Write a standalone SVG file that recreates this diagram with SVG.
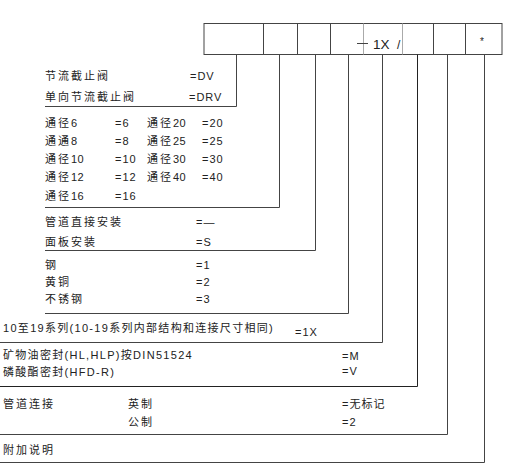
<svg xmlns="http://www.w3.org/2000/svg" width="510" height="473" viewBox="0 0 510 473">
<style>
text{font-family:"Liberation Sans","Noto Sans CJK SC",sans-serif;font-size:11px;fill:#222;letter-spacing:1px}
.c{letter-spacing:2px}
.d{letter-spacing:0.5px}
.m{letter-spacing:1.3px}
.ln{stroke:#444;stroke-width:1;fill:none}
.lt{stroke:#aaa;stroke-width:1;fill:none}
.big{font-size:13.5px;letter-spacing:0}
</style>
<rect width="510" height="473" fill="#fff"/>
<g id="code-box">
<rect x="204" y="23.5" width="298" height="31" class="ln"/>
<path class="ln" d="M263.5 23.5V54.5M297.5 23.5V54.5M330.5 23.5V54.5M433.5 23.5V54.5M465.5 23.5V54.5"/>
<path class="lt" d="M363.5 23.5V54.5M402.5 23.5V54.5"/>
<path class="ln" d="M357 43.5H368"/>
<text x="373" y="49" class="big">1X</text>
<text x="397" y="49" class="big" style="font-size:12px">/</text>
<text x="480" y="45" style="font-size:10px">*</text>
</g>
<g id="connectors">
<path class="ln" d="M236.5 54.5V106.5H45"/>
<path class="ln" d="M279.5 54.5V207.5H45"/>
<path class="ln" d="M315.5 54.5V250.5H45"/>
<path class="ln" d="M348.5 54.5V313.5H45"/>
<path class="ln" d="M382.5 54.5V342.5H0"/>
<path class="ln" d="M417.5 54.5V386.5H0" style="stroke:#222"/>
<path class="ln" d="M447.5 54.5V434.5H0"/>
<path class="ln" d="M484.5 54.5V462.5H0"/>
</g>
<g id="valve-type">
<text x="45" y="80" class="c">节流截止阀</text><text x="190" y="80">=DV</text>
<text x="45" y="101" class="c">单向节流截止阀</text><text x="189" y="101">=DRV</text>
</g>
<g id="nominal-size">
<text x="45" y="127" class="c">通径<tspan class="d">6</tspan></text><text x="115" y="127">=6</text><text x="147" y="127" class="c">通径<tspan class="d">20</tspan></text><text x="202" y="127">=20</text>
<text x="45" y="145" class="c">通通<tspan class="d">8</tspan></text><text x="115" y="145">=8</text><text x="147" y="145" class="c">通径<tspan class="d">25</tspan></text><text x="202" y="145">=25</text>
<text x="45" y="163" class="c">通径<tspan class="d">10</tspan></text><text x="115" y="163">=10</text><text x="147" y="163" class="c">通径<tspan class="d">30</tspan></text><text x="202" y="163">=30</text>
<text x="45" y="181" class="c">通径<tspan class="d">12</tspan></text><text x="115" y="181">=12</text><text x="147" y="181" class="c">通径<tspan class="d">40</tspan></text><text x="202" y="181">=40</text>
<text x="45" y="200" class="c">通径<tspan class="d">16</tspan></text><text x="115" y="200">=16</text>
</g>
<g id="mounting">
<text x="45" y="226" class="c">管道直接安装</text><text x="196" y="226">=—</text>
<text x="45" y="246" class="c">面板安装</text><text x="196" y="246">=S</text>
</g>
<g id="material">
<text x="45" y="269" class="c">钢</text><text x="196" y="269">=1</text>
<text x="45" y="286" class="c">黄铜</text><text x="196" y="286">=2</text>
<text x="45" y="303" class="c">不锈钢</text><text x="196" y="303">=3</text>
</g>
<g id="series">
<text x="3" y="332" class="m">10至19系列(10-19系列内部结构和连接尺寸相同)</text><text x="295" y="336">=1X</text>
</g>
<g id="seal">
<text x="3" y="359" class="m">矿物油密封(HL,HLP)按DIN51524</text><text x="342" y="360">=M</text>
<text x="3" y="376" class="m">磷酸酯密封(HFD-R)</text><text x="342" y="375">=V</text>
</g>
<g id="pipe-connection">
<text x="3" y="408" class="c">管道连接</text><text x="128" y="408" class="c">英制</text><text x="342" y="408">=无标记</text>
<text x="128" y="426" class="c">公制</text><text x="342" y="426">=2</text>
</g>
<g id="additional">
<text x="3" y="454" class="c">附加说明</text>
</g>
</svg>
